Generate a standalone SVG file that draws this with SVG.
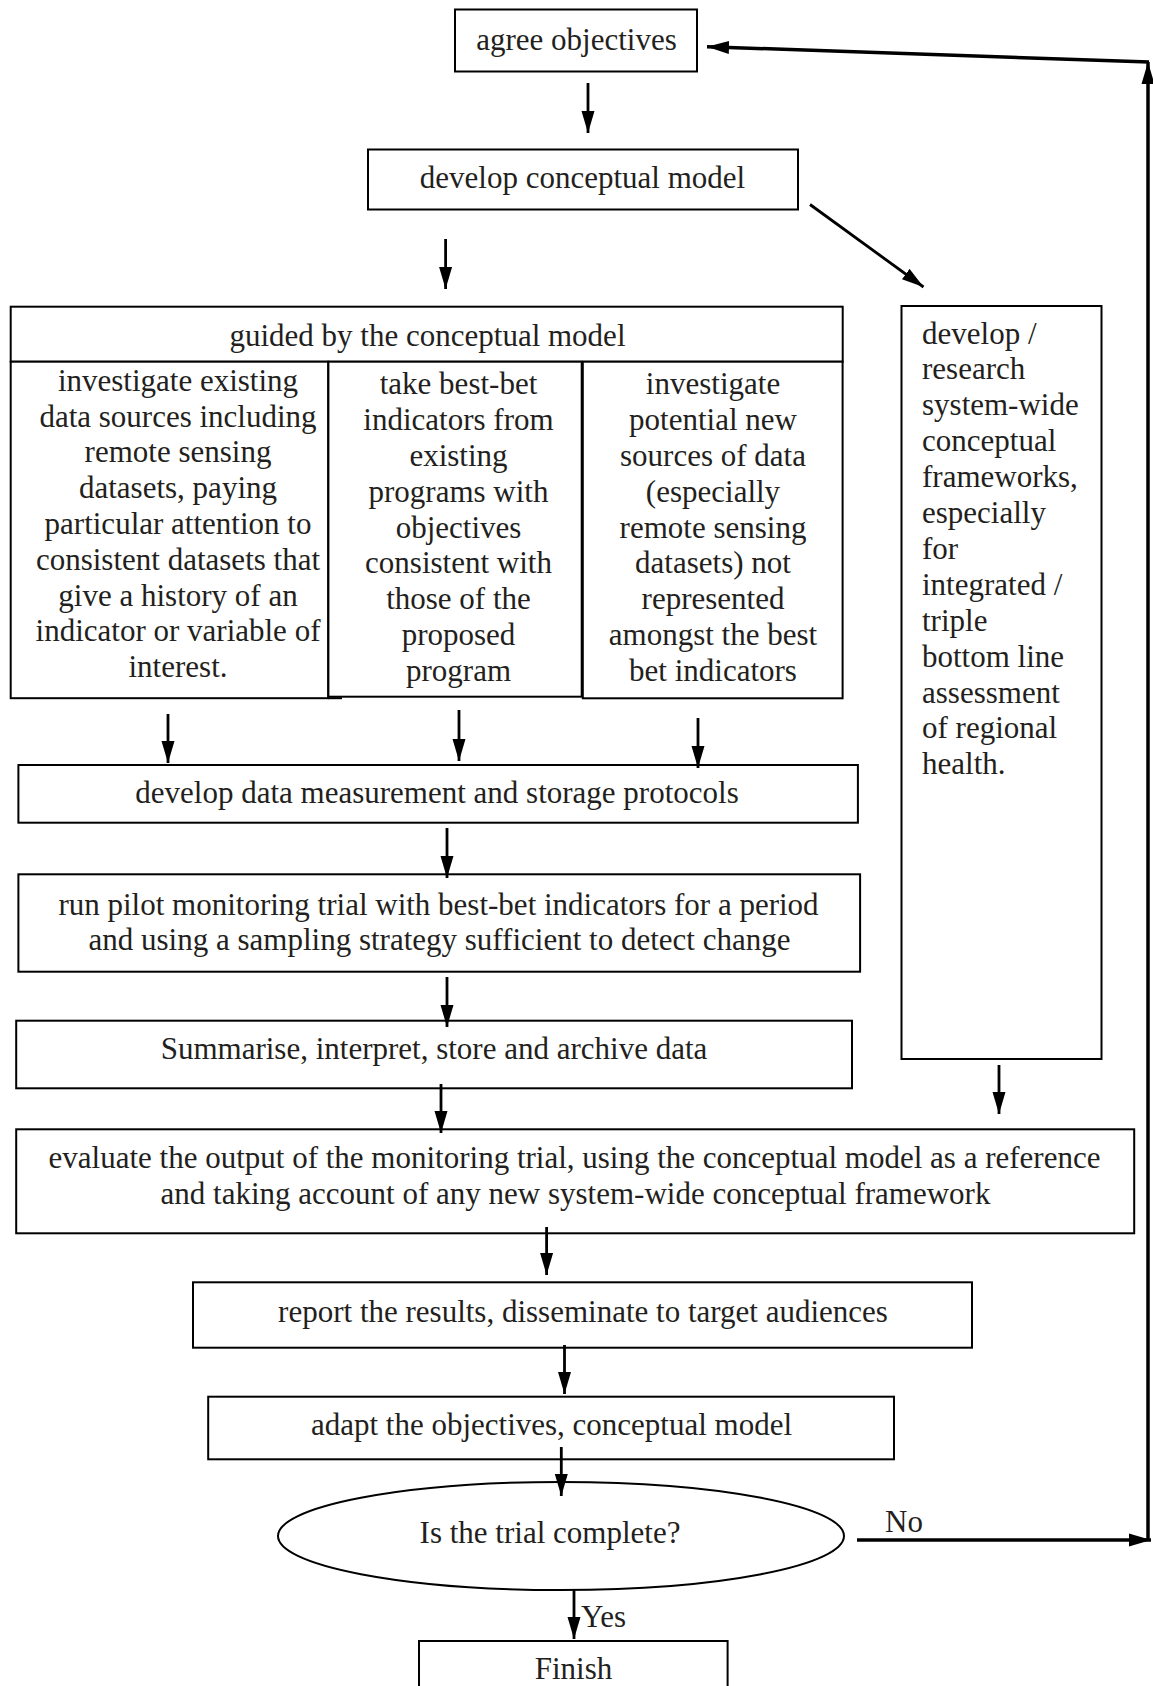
<svg xmlns="http://www.w3.org/2000/svg" width="1153" height="1686" viewBox="0 0 1153 1686">
<style>
text{font-family:"Liberation Serif","Times New Roman",serif;font-size:31px;fill:#231f20}
.c{text-anchor:middle}
.box{fill:#fff;stroke:#000;stroke-width:2}
.ar{stroke:#000;stroke-width:2.8;fill:none;marker-end:url(#ah)}
.fb{stroke:#000;stroke-width:3.5;fill:none;marker-end:url(#ah)}
</style>
<defs>
<marker id="ah" markerUnits="userSpaceOnUse" markerWidth="24" markerHeight="14" refX="22" refY="7" orient="auto">
<path d="M0,0.5 L22,7 L0,13.5 z" fill="#000"/>
</marker>
</defs>
<rect width="1153" height="1686" fill="#fff"/>

<g id="n-agree"><rect class="box" x="455" y="9.5" width="242" height="62"/><text class="c" x="576.5" y="50">agree objectives</text></g>

<g id="n-develop"><rect class="box" x="368" y="149.5" width="430" height="60"/><text class="c" x="582.5" y="188">develop conceptual model</text></g>

<g id="n-guided"><rect class="box" x="10.7" y="306.7" width="832" height="55"/><text class="c" x="427.5" y="346">guided by the conceptual model</text></g>

<g id="n-col1"><rect class="box" x="10.7" y="361.7" width="317.5" height="336.5"/><line x1="328" y1="698.2" x2="342" y2="698.2" stroke="#000" stroke-width="2"/>
<text class="c" x="178"><tspan x="178" y="390.7">investigate existing</tspan><tspan x="178" y="426.5">data sources including</tspan><tspan x="178" y="462.3">remote sensing</tspan><tspan x="178" y="498.1">datasets, paying</tspan><tspan x="178" y="533.9">particular attention to</tspan><tspan x="178" y="569.7">consistent datasets that</tspan><tspan x="178" y="605.5">give a history of an</tspan><tspan x="178" y="641.3">indicator or variable of</tspan><tspan x="178" y="677.1">interest.</tspan></text></g>

<g id="n-col2"><rect class="box" x="328.4" y="361.7" width="253.3" height="335"/>
<text class="c" x="458.5"><tspan x="458.5" y="394.3">take best-bet</tspan><tspan x="458.5" y="430.1">indicators from</tspan><tspan x="458.5" y="465.9">existing</tspan><tspan x="458.5" y="501.7">programs with</tspan><tspan x="458.5" y="537.5">objectives</tspan><tspan x="458.5" y="573.3">consistent with</tspan><tspan x="458.5" y="609.1">those of the</tspan><tspan x="458.5" y="644.9">proposed</tspan><tspan x="458.5" y="680.7">program</tspan></text></g>

<g id="n-col3"><rect class="box" x="582.8" y="361.7" width="259.8" height="336.6"/>
<text class="c" x="713"><tspan x="713" y="394.3">investigate</tspan><tspan x="713" y="430.1">potential new</tspan><tspan x="713" y="465.9">sources of data</tspan><tspan x="713" y="501.7">(especially</tspan><tspan x="713" y="537.5">remote sensing</tspan><tspan x="713" y="573.3">datasets) not</tspan><tspan x="713" y="609.1">represented</tspan><tspan x="713" y="644.9">amongst the best</tspan><tspan x="713" y="680.7">bet indicators</tspan></text></g>

<g id="n-framework"><rect class="box" x="901.5" y="306" width="200" height="753"/>
<text x="922"><tspan x="922" y="343.5">develop /</tspan><tspan x="922" y="379.4">research</tspan><tspan x="922" y="415.3">system-wide</tspan><tspan x="922" y="451.2">conceptual</tspan><tspan x="922" y="487.1">frameworks,</tspan><tspan x="922" y="523">especially</tspan><tspan x="922" y="558.9">for</tspan><tspan x="922" y="594.8">integrated /</tspan><tspan x="922" y="630.7">triple</tspan><tspan x="922" y="666.6">bottom line</tspan><tspan x="922" y="702.5">assessment</tspan><tspan x="922" y="738.4">of regional</tspan><tspan x="922" y="774.3">health.</tspan></text></g>

<g id="n-protocols"><rect class="box" x="18.4" y="765" width="839.5" height="57.7"/><text class="c" x="437" y="803">develop data measurement and storage protocols</text></g>

<g id="n-pilot"><rect class="box" x="18.4" y="874.3" width="841.7" height="97.4"/><text class="c"><tspan x="438.5" y="915">run pilot monitoring trial with best-bet indicators for a period</tspan><tspan x="439.5" y="950">and using a sampling strategy sufficient to detect change</tspan></text></g>

<g id="n-summarise"><rect class="box" x="16.2" y="1020.7" width="835.8" height="67.6"/><text class="c" x="434" y="1059.3">Summarise, interpret, store and archive data</text></g>

<g id="n-evaluate"><rect class="box" x="16.2" y="1129.3" width="1118" height="104"/><text class="c"><tspan x="574.5" y="1168">evaluate the output of the monitoring trial, using the conceptual model as a reference</tspan><tspan x="575.5" y="1204">and taking account of any new system-wide conceptual framework</tspan></text></g>

<g id="n-report"><rect class="box" x="193" y="1282.3" width="779" height="65.4"/><text class="c" x="583" y="1321.5">report the results, disseminate to target audiences</text></g>

<g id="n-adapt"><rect class="box" x="208.2" y="1396.7" width="685.8" height="62.6"/><text class="c" x="551.5" y="1435">adapt the objectives, conceptual model</text></g>

<g id="n-complete"><ellipse cx="561" cy="1536" rx="283" ry="54" fill="#fff" stroke="#000" stroke-width="2"/><text class="c" x="550" y="1543">Is the trial complete?</text></g>

<g id="n-finish"><rect class="box" x="419" y="1641" width="308.6" height="70"/><text class="c" x="573.5" y="1679">Finish</text></g>

<g id="connectors">
<line class="ar" x1="588" y1="83" x2="588" y2="133"/>
<line class="ar" x1="445.6" y1="239" x2="445.6" y2="289"/>
<line class="ar" x1="810" y1="204.5" x2="923.5" y2="287"/>
<line class="ar" x1="168" y1="714" x2="168" y2="763"/>
<line class="ar" x1="459" y1="710" x2="459" y2="761"/>
<line class="ar" x1="698" y1="718" x2="698" y2="768"/>
<line class="ar" x1="447" y1="828" x2="447" y2="878"/>
<line class="ar" x1="447" y1="977" x2="447" y2="1027"/>
<line class="ar" x1="441" y1="1084" x2="441" y2="1133"/>
<line class="ar" x1="999" y1="1065" x2="999" y2="1114"/>
<line class="ar" x1="546.6" y1="1227" x2="546.6" y2="1275"/>
<line class="ar" x1="564.5" y1="1345" x2="564.5" y2="1394"/>
<line class="ar" x1="561.3" y1="1447" x2="561.3" y2="1496"/>
<line class="ar" x1="574" y1="1589" x2="574" y2="1639"/>
<line class="fb" x1="857" y1="1540" x2="1151" y2="1540"/>
<line class="fb" x1="1148" y1="1540" x2="1148" y2="62"/>
<line class="fb" x1="1149" y1="62" x2="707" y2="46.7"/>
<text x="885" y="1532">No</text>
<text x="581" y="1627">Yes</text>
</g>
</svg>
